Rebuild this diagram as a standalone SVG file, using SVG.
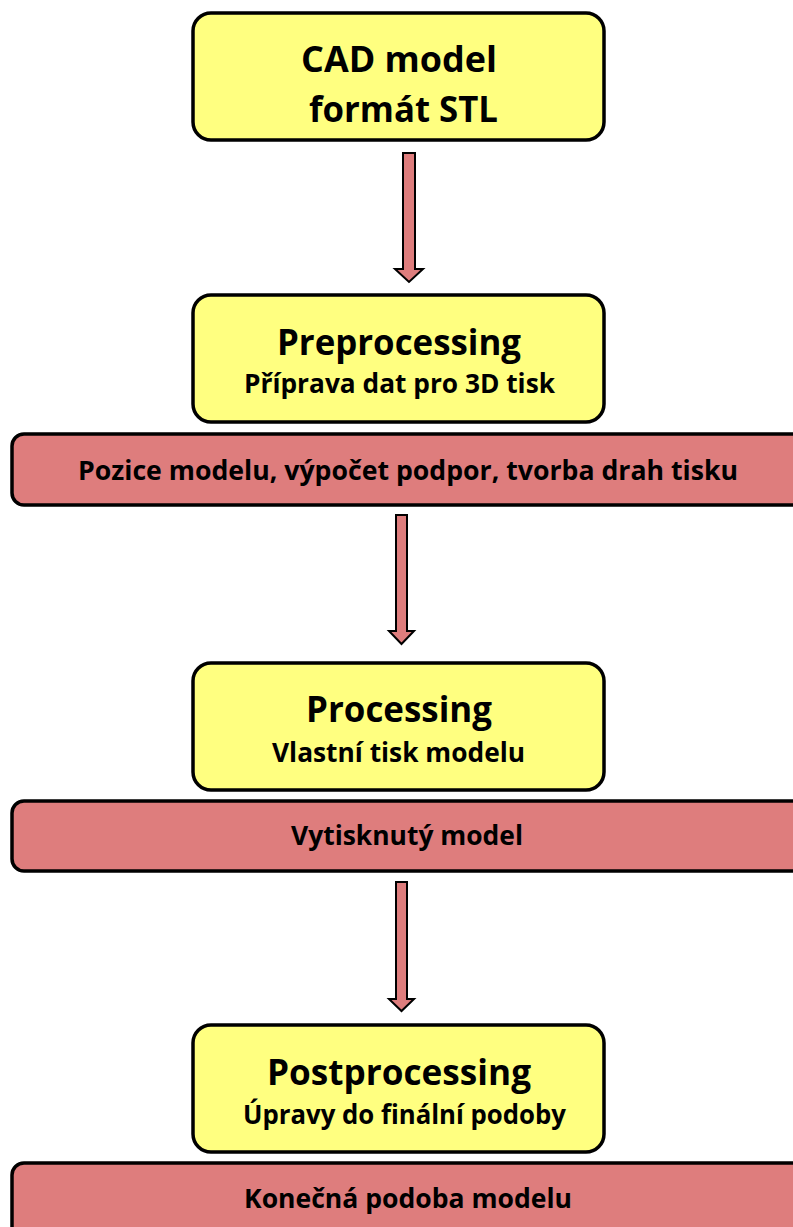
<svg xmlns="http://www.w3.org/2000/svg" width="793" height="1227" viewBox="0 0 793 1227">
<style>
.box{fill:#FFFF80;stroke:#000;stroke-width:3.5}
.bar{fill:#DE7D7D;stroke:#000;stroke-width:3.5}
.arr{fill:#DE7D7D;stroke:#000;stroke-width:2;stroke-linejoin:miter}
text{font-family:"Open Sans","Noto Sans",sans-serif;font-weight:bold;fill:#000;text-anchor:middle}
.t1{font-size:35px}
.t2{font-size:26px}
.t3{font-size:26px}
</style>
<rect width="793" height="1227" fill="#fff"/>
<g id="connectors">
<polygon class="arr" points="403,153 415,153 415,269 423,269 409,282 395,269 403,269"/>
<polygon class="arr" points="396,515 407,515 407,631 414,631 401.5,644 389,631 396,631"/>
<polygon class="arr" points="396,882 407,882 407,999 414,999 401.5,1011 389,999 396,999"/>
</g>
<g id="cad">
<rect class="box" x="193" y="13" width="411" height="127" rx="18"/>
<text class="t1" x="399" y="72" textLength="196" lengthAdjust="spacingAndGlyphs">CAD model</text>
<text class="t1" x="403.5" y="122" textLength="189" lengthAdjust="spacingAndGlyphs">formát STL</text>
</g>
<g id="preprocessing">
<rect class="box" x="193" y="295" width="411" height="127" rx="18"/>
<text class="t1" x="399" y="355" textLength="244" lengthAdjust="spacingAndGlyphs">Preprocessing</text>
<text class="t2" x="399.5" y="393" textLength="311" lengthAdjust="spacingAndGlyphs">Příprava dat pro 3D tisk</text>
</g>
<g id="bar1">
<rect class="bar" x="12" y="434" width="800" height="71" rx="12"/>
<text class="t3" x="408" y="480" textLength="660" lengthAdjust="spacingAndGlyphs">Pozice modelu, výpočet podpor, tvorba drah tisku</text>
</g>
<g id="processing">
<rect class="box" x="193" y="663" width="411" height="127" rx="18"/>
<text class="t1" x="399" y="722" textLength="186" lengthAdjust="spacingAndGlyphs">Processing</text>
<text class="t2" x="398.5" y="762" textLength="253" lengthAdjust="spacingAndGlyphs">Vlastní tisk modelu</text>
</g>
<g id="bar2">
<rect class="bar" x="12" y="801" width="800" height="70" rx="12"/>
<text class="t3" x="407" y="845" textLength="232" lengthAdjust="spacingAndGlyphs">Vytisknutý model</text>
</g>
<g id="postprocessing">
<rect class="box" x="193" y="1025" width="411" height="127" rx="18"/>
<text class="t1" x="399" y="1085" textLength="264" lengthAdjust="spacingAndGlyphs">Postprocessing</text>
<text class="t2" x="404.5" y="1124" textLength="323" lengthAdjust="spacingAndGlyphs">Úpravy do finální podoby</text>
</g>
<g id="bar3">
<rect class="bar" x="12" y="1163" width="800" height="90" rx="12"/>
<text class="t3" x="408" y="1208" textLength="328" lengthAdjust="spacingAndGlyphs">Konečná podoba modelu</text>
</g>
</svg>
